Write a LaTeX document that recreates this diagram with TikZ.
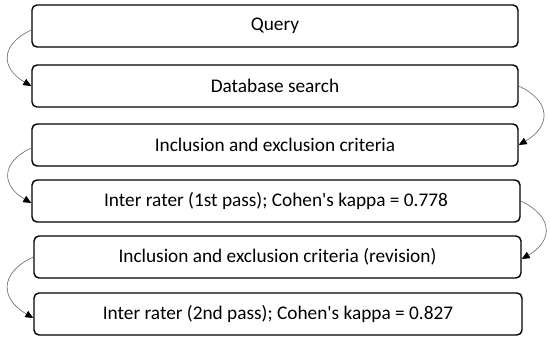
\documentclass[tikz,border=0pt]{standalone}
\usepackage{fontspec}
\setmainfont{Carlito}[Ligatures=TeXOff]
\usetikzlibrary{arrows.meta}
\begin{document}
\begin{tikzpicture}[x=1pt,y=-1pt,
  stepbox/.style={draw=black,line width=1.4pt,rounded corners=5pt,minimum height=42pt,font=\fontsize{19.3}{21}\selectfont,inner sep=0pt},
  arr/.style={draw=black!60,line width=0.6pt,looseness=1.6,-{Triangle[length=8pt,width=7pt,color=black]}}]
\useasboundingbox (0,0) rectangle (550,341);
\node[stepbox,minimum width=486pt] (q) at (275,26) {Query};
\node[stepbox,minimum width=486pt] (d) at (275,86) {Database search};
\node[stepbox,minimum width=486pt] (c1) at (275,145) {Inclusion and exclusion criteria};
\node[stepbox,minimum width=488pt] (r1) at (276,201) {Inter rater (1st pass); Cohen's kappa = 0.778};
\node[stepbox,minimum width=487pt] (c2) at (277.5,257) {Inclusion and exclusion criteria (revision)};
\node[stepbox,minimum width=488pt] (r2) at (278,314) {Inter rater (2nd pass); Cohen's kappa = 0.827};
\draw[arr] ([yshift=-4pt]q.west) to[out=205,in=150] (d.west);
\draw[arr] (d.east) to[out=-25,in=30] (c1.east);
\draw[arr] ([yshift=-3pt]c1.west) to[out=205,in=150] ([yshift=-2pt]r1.west);
\draw[arr] (r1.east) to[out=-25,in=30] ([yshift=-2pt]c2.east);
\draw[arr] (c2.west) to[out=205,in=150] ([yshift=-4pt]r2.west);
\end{tikzpicture}
\end{document}
